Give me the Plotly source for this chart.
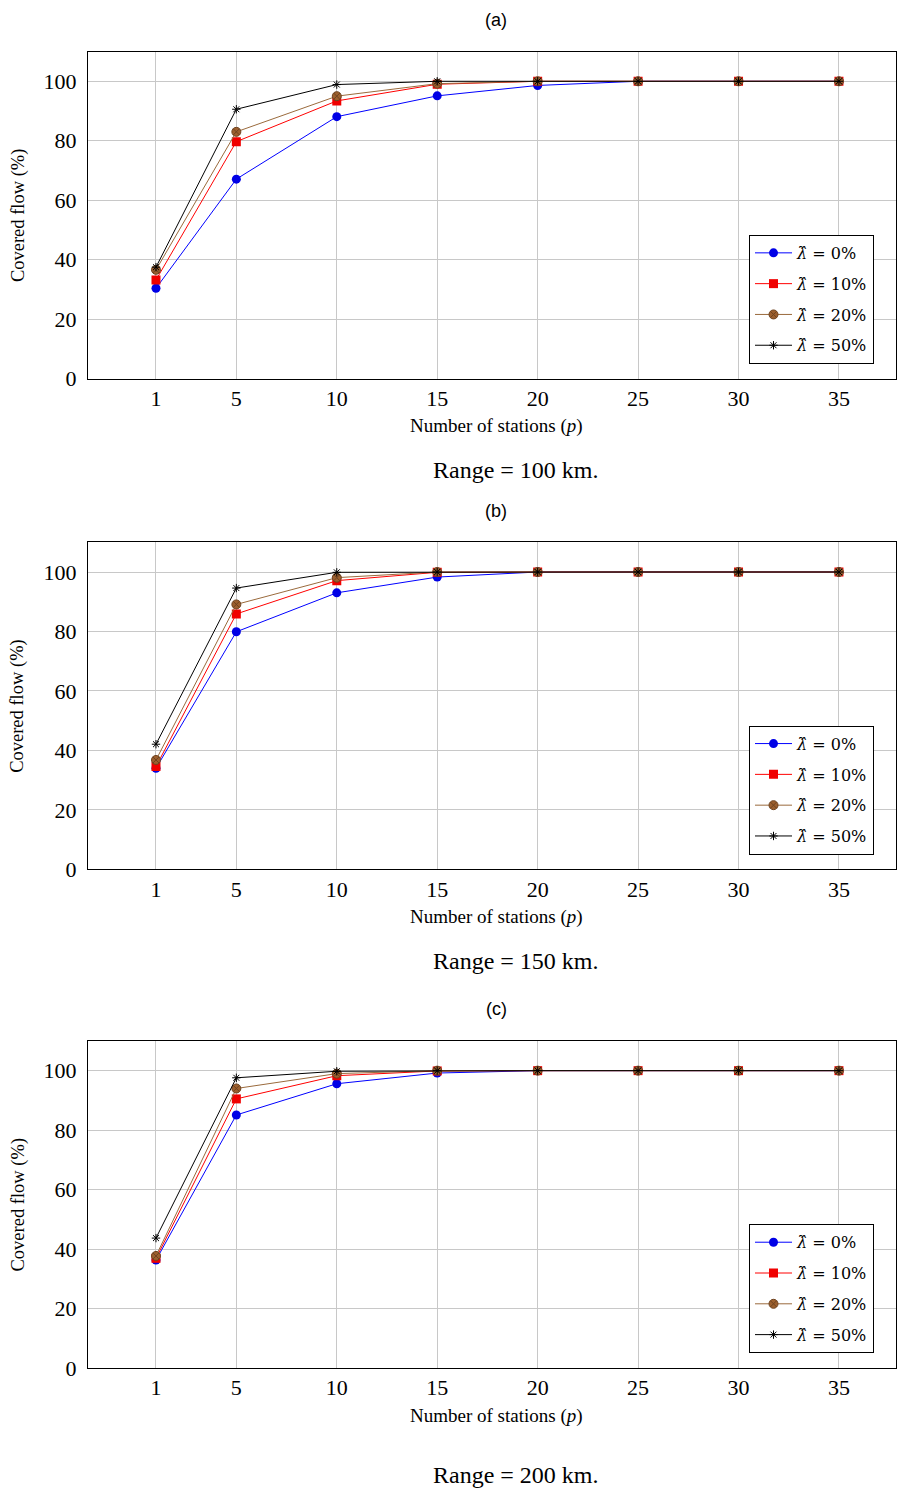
import plotly.graph_objects as go

W, H = 897, 1502

stations = [1, 5, 10, 15, 20, 25, 30, 35]
x_ticks = [1, 5, 10, 15, 20, 25, 30, 35]
y_ticks = [0, 20, 40, 60, 80, 100]
series_names = ["<i>λ̂</i> = 0%", "<i>λ̂</i> = 10%", "<i>λ̂</i> = 20%", "<i>λ̂</i> = 50%"]

# Range = 100 km
a_l0 = [30.4, 67.1, 88.1, 95.1, 98.6, 100, 100, 100]
a_l10 = [33.2, 79.7, 93.4, 99.0, 100, 100, 100, 100]
a_l20 = [36.6, 83.0, 95.0, 99.2, 100, 100, 100, 100]
a_l50 = [37.5, 90.6, 98.9, 100, 100, 100, 100, 100]
# Range = 150 km
b_l0 = [34.0, 79.9, 93.0, 98.3, 100, 100, 100, 100]
b_l10 = [34.6, 85.9, 97.1, 99.9, 100, 100, 100, 100]
b_l20 = [36.8, 89.1, 98.1, 100, 100, 100, 100, 100]
b_l50 = [42.1, 94.6, 99.9, 100, 100, 100, 100, 100]
# Range = 200 km
c_l0 = [36.3, 85.1, 95.6, 99.2, 100, 100, 100, 100]
c_l10 = [36.9, 90.5, 98.3, 99.9, 100, 100, 100, 100]
c_l20 = [37.7, 94.0, 99.0, 100, 100, 100, 100, 100]
c_l50 = [43.7, 97.6, 99.8, 100, 100, 100, 100, 100]

panel_titles = ["(a)", "(b)", "(c)"]
captions = ["Range = 100 km.", "Range = 150 km.", "Range = 200 km."]
x_title = "Number of stations (<i>p</i>)"
y_title = "Covered flow (%)"

panels = [
    [a_l0, a_l10, a_l20, a_l50],
    [b_l0, b_l10, b_l20, b_l50],
    [c_l0, c_l10, c_l20, c_l50],
]

styles = [
    dict(line="#0000ff", fill="#0000e6", edge="#0000e6", symbol="circle", size=9, lw=0),
    dict(line="#ff0000", fill="#f00000", edge="#f00000", symbol="square", size=9, lw=0),
    dict(line="#9a6a3c", fill="#9c5f2e", edge="#6e4320", symbol="circle-x", size=9, lw=1),
    dict(line="#000000", fill="#000000", edge="#000000", symbol="asterisk-open", size=7, lw=1),
]

SERIF = "Liberation Serif"
SANS = "Liberation Sans"
LEGF = "DejaVu Serif"

# pixel geometry of each panel (top, bottom)
boxes = [(52, 382), (547, 877), (1050, 1380)]
x_left, x_right = 88, 896
legend_tops = [237, 732, 1235]
sub_y = [20, 515, 1018]
xt_y = [430, 925, 1428]
cap_y = [474, 969, 1488]

fig = go.Figure()
layout = dict(
    width=W, height=H,
    margin=dict(l=0, r=0, t=0, b=0),
    paper_bgcolor="white", plot_bgcolor="white",
    showlegend=True,
    annotations=[],
)

for i, data in enumerate(panels):
    sfx = "" if i == 0 else str(i + 1)
    leg = "legend" if i == 0 else f"legend{i + 1}"
    for j, ys in enumerate(data):
        st = styles[j]
        fig.add_trace(go.Scatter(
            x=stations, y=ys, mode="lines+markers", name=series_names[j],
            xaxis="x" + sfx, yaxis="y" + sfx, legend=leg,
            legendgroup=f"p{i}s{j}",
            line=dict(color=st["line"], width=1),
            marker=dict(symbol=st["symbol"], size=st["size"], color=st["fill"],
                        line=dict(color=st["edge"], width=st["lw"])),
        ))
    top, bot = boxes[i]
    layout["xaxis" + sfx] = dict(
        domain=[x_left / W, x_right / W], anchor="y" + sfx,
        range=[-2.385, 37.84], tickvals=x_ticks, ticktext=[str(v) for v in x_ticks],
        showgrid=True, gridcolor="#c8c8c8", gridwidth=1,
        showline=True, linecolor="black", linewidth=1, mirror=True,
        ticks="", zeroline=False, ticklabelstandoff=0,
        tickfont=dict(family=SERIF, size=22, color="black"),
    )
    layout["yaxis" + sfx] = dict(
        domain=[1 - bot / H, 1 - top / H], anchor="x" + sfx,
        range=[0, 110], tickvals=y_ticks,
        showgrid=True, gridcolor="#c8c8c8", gridwidth=1,
        showline=True, linecolor="black", linewidth=1, mirror=True,
        ticks="", zeroline=False, ticklabelstandoff=6,
        tickfont=dict(family=SERIF, size=22, color="black"),
    )
    layout[leg] = dict(
        x=749 / W, y=1 - legend_tops[i] / H, xanchor="left", yanchor="top",
        bordercolor="black", borderwidth=1, bgcolor="white",
        font=dict(family=LEGF, size=16, color="black"),
        tracegroupgap=7, itemwidth=37,
    )
    layout["annotations"] += [
        dict(text=panel_titles[i], x=496 / W, y=1 - sub_y[i] / H, xref="paper", yref="paper",
             showarrow=False, xanchor="center", yanchor="middle",
             font=dict(family=SANS, size=18, color="black")),
        dict(text=x_title, x=496 / W, y=1 - xt_y[i] / H, xref="paper", yref="paper",
             showarrow=False, xanchor="center", yanchor="middle",
             font=dict(family=SERIF, size=19, color="black")),
        dict(text=y_title, x=18 / W, y=1 - (top + bot) / 2 / H, xref="paper", yref="paper",
             showarrow=False, xanchor="center", yanchor="middle", textangle=-90,
             font=dict(family=SERIF, size=18.5, color="black")),
        dict(text=captions[i], x=516 / W, y=1 - cap_y[i] / H, xref="paper", yref="paper",
             showarrow=False, xanchor="center", yanchor="middle",
             font=dict(family=SERIF, size=24, color="black")),
    ]

fig.update_layout(**layout)
fig.write_html("out.html")
